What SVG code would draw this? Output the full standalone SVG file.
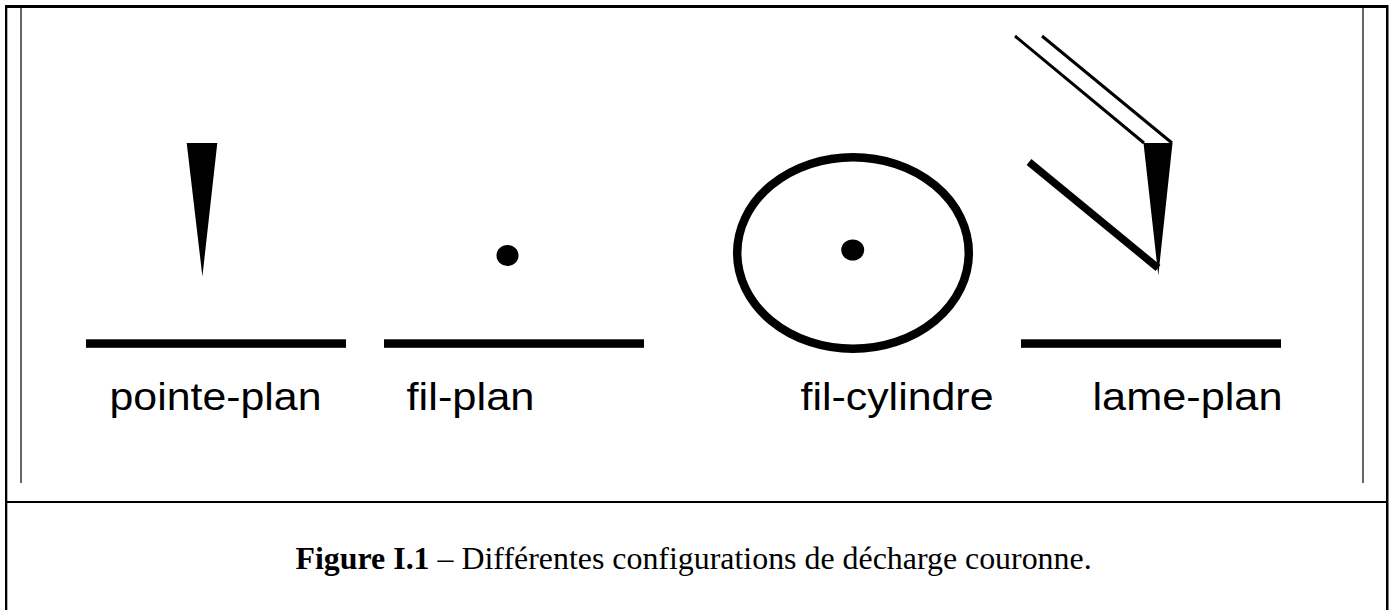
<svg xmlns="http://www.w3.org/2000/svg" width="1391" height="610" viewBox="0 0 1391 610">
<style>
.frame{fill:#000}
.inner{stroke:#666;stroke-width:2;fill:none}
.thin{stroke:#000;stroke-width:3;fill:none}
.thick{stroke:#000;stroke-width:7.500;fill:none}
.tip{fill:#000}
.plate{fill:#000}
.lab{font-family:"Liberation Sans",Arial,sans-serif;font-size:38px;fill:#000}
.cap{font-family:"Liberation Serif","Times New Roman",serif;font-size:31.900px;fill:#000}
</style>
<rect width="1391" height="610" fill="#fff"/>
<g id="frame">
<rect class="frame" x="5" y="5" width="1383" height="3"/>
<rect class="frame" x="5" y="5" width="2.300" height="605"/>
<rect class="frame" x="1386" y="5" width="2.500" height="605"/>
<rect class="frame" x="5" y="501" width="1383" height="2"/>
<path class="inner" d="M21 8V483M1363 8V483"/>
</g>
<g id="pointe-plan">
<path class="tip" d="M186.700 143H217.300L202.400 276.500Z"/>
<rect class="plate" x="86" y="339.300" width="260" height="8.500"/>
<text class="lab" x="109.500" y="410" textLength="212" lengthAdjust="spacingAndGlyphs">pointe-plan</text>
</g>
<g id="fil-plan">
<ellipse cx="507.500" cy="255.500" rx="11" ry="10.500" fill="#000"/>
<rect class="plate" x="384" y="339.300" width="260" height="8.500"/>
<text class="lab" x="406.500" y="410" textLength="128" lengthAdjust="spacingAndGlyphs">fil-plan</text>
</g>
<g id="fil-cylindre">
<ellipse cx="853" cy="253" rx="115.800" ry="95.800" fill="none" stroke="#000" stroke-width="8.500"/>
<ellipse cx="852.700" cy="250" rx="11.500" ry="10.500" fill="#000"/>
<text class="lab" x="800.500" y="410" textLength="193" lengthAdjust="spacingAndGlyphs">fil-cylindre</text>
</g>
<g id="lame-plan">
<path class="thin" d="M1015 36L1144 143M1042 36L1172 143"/>
<path class="tip" d="M1143.500 143H1172.500L1158.300 275.500Z"/>
<path class="thick" d="M1029 162L1158 268"/>
<rect class="plate" x="1021" y="339.300" width="260" height="8.500"/>
<text class="lab" x="1092.500" y="410" textLength="190" lengthAdjust="spacingAndGlyphs">lame-plan</text>
</g>
<g id="caption">
<text class="cap" x="295.500" y="569"><tspan font-weight="bold">Figure I.1</tspan> – Différentes configurations de décharge couronne.</text>
</g>
</svg>
